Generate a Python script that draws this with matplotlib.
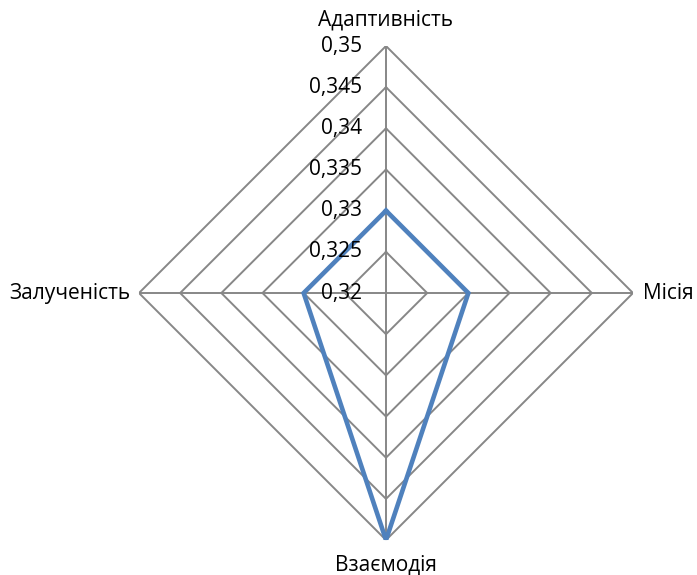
import numpy as np
import matplotlib.pyplot as plt

plt.rcParams['font.family'] = ['Open Sans', 'DejaVu Sans']

categories = ['Адаптивність', 'Місія', 'Взаємодія', 'Залученість']
values = [0.33, 0.33, 0.35, 0.33]
levels = [0.32, 0.325, 0.33, 0.335, 0.34, 0.345, 0.35]
level_labels = ['0,32', '0,325', '0,33', '0,335', '0,34', '0,345', '0,35']

fig = plt.figure(figsize=(6.97, 5.75), dpi=100)
ax = fig.add_axes([0.1994, 0.0591, 0.7088, 0.8626], projection='polar')
ax.set_theta_offset(np.pi / 2)
ax.set_theta_direction(-1)
ax.set_rlim(0.32, 0.35)

angles = np.linspace(0, 2 * np.pi, len(categories), endpoint=False)
closed = np.append(angles, angles[0])

# кольца-многоугольники
for lv in levels[1:]:
    ax.plot(closed, [lv] * len(closed), color='#878787', lw=1.4, zorder=1)
# спицы
for a in angles:
    ax.plot([a, a], [0.32, 0.35], color='#878787', lw=1.4, zorder=1)

# данные
vals = values + values[:1]
ax.plot(closed, vals, color='#4F81BD', lw=3.3, zorder=3, solid_joinstyle='miter')

ax.grid(False)
ax.spines['polar'].set_visible(False)
ax.set_xticks([])
ax.set_yticks([])
ax.patch.set_alpha(0)

# подписи уровней вдоль верхней оси
for lv, lab in zip(levels, level_labels):
    ax.annotate(lab, xy=(0, lv), xytext=(-17, 0), textcoords='offset points',
                ha='right', va='center', fontsize=15)

# подписи категорий
offsets = [(0, 19, 'center', 'center'), (7, 0, 'left', 'center'),
           (0, -18, 'center', 'center'), (-6, 0, 'right', 'center')]
for a, cat, (dx, dy, ha, va) in zip(angles, categories, offsets):
    ax.annotate(cat, xy=(a, 0.35), xytext=(dx, dy), textcoords='offset points',
                ha=ha, va=va, fontsize=15, annotation_clip=False)

fig.savefig('out.png', dpi=100)
